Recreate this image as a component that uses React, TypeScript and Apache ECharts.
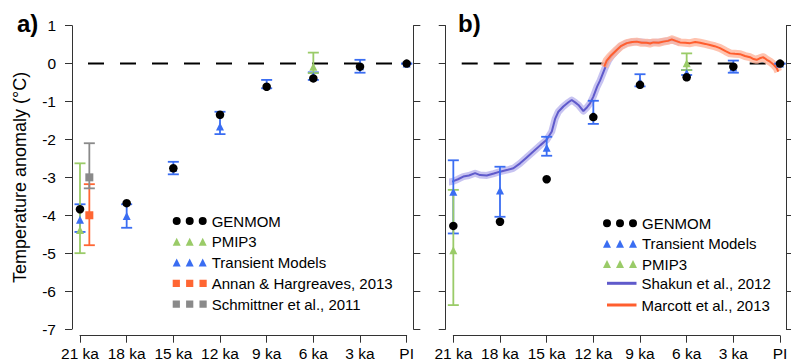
import React, { useEffect, useRef } from "react";
import * as echarts from "echarts";

const FONT = '"Liberation Sans", Arial, Helvetica, sans-serif';

// ---- x positions (ka before present; 0 = PI) ----
const siteKa = [21, 18, 15, 12, 9, 6, 3, 0];
const tickKa = [21, 18, 15, 12, 9, 6, 3, 0];

// ---- Panel a ----
const genmomA = [-3.84, -3.68, -2.76, -1.35, -0.61, -0.39, -0.08, 0];
const transA = [-4.12, -4.02, -2.75, -1.66, -0.58, -0.33, -0.07, 0];
const transALow = [-4.44, -4.33, -2.92, -1.86, -0.65, -0.43, -0.24, 0];
const transAHigh = [-3.71, -3.71, -2.59, -1.27, -0.43, -0.23, 0.1, 0];
const pmipKa = [21, 6];
const pmipA = [-4.39, -0.08];
const pmipALow = [-5.0, -0.25];
const pmipAHigh = [-2.63, 0.29];
const proxyKa = [20.4];
const annan = [-4.0];
const annanLow = [-4.79];
const annanHigh = [-3.18];
const schmittner = [-3.0];
const schmittnerLow = [-3.29];
const schmittnerHigh = [-2.1];

// ---- Panel b ----
const genmomB = [-4.28, -4.17, -3.05, -1.41, -0.56, -0.36, -0.08, 0];
const transB = [-3.38, -3.35, -2.22, -1.35, -0.47, -0.25, -0.1, 0];
const transBLow = [-4.48, -4.04, -2.43, -1.59, -0.6, -0.3, -0.24, 0];
const transBHigh = [-2.55, -2.72, -1.93, -0.98, -0.28, -0.17, 0.08, 0];
const pmipB = [-4.92, 0.01];
const pmipBLow = [-6.37, -0.17];
const pmipBHigh = [-3.33, 0.27];

const shakunKa = [21.47, 21.0, 20.7, 20.36, 20.0, 19.6, 19.28, 18.85, 18.4, 18.0, 17.5, 17.14, 16.71, 16.3, 15.86, 15.4, 15.0, 14.67, 14.45, 14.25, 13.93, 13.6, 13.39, 13.15, 12.96, 12.64, 12.4, 12.21, 12.0, 11.75, 11.57, 11.25, 11.0, 10.82, 10.5, 10.28, 9.86, 9.5, 9.21, 8.9, 8.57, 8.2, 7.71, 7.3, 6.94, 6.43];
const shakunT = [-3.14, -3.1, -3.05, -2.98, -2.95, -2.89, -2.94, -2.95, -2.9, -2.85, -2.8, -2.76, -2.63, -2.48, -2.32, -2.15, -2.01, -1.79, -1.45, -1.27, -1.13, -1.02, -0.96, -1.03, -1.09, -1.25, -1.15, -1.05, -0.87, -0.6, -0.45, -0.12, 0.1, 0.2, 0.35, 0.45, 0.54, 0.57, 0.58, 0.57, 0.55, 0.56, 0.57, 0.6, 0.62, 0.56];

const marcottKa = [11.3, 11.14, 10.9, 10.5, 10.2, 9.85, 9.5, 9.21, 8.9, 8.57, 8.35, 8.14, 7.8, 7.5, 7.2, 6.96, 6.7, 6.43, 6.1, 5.78, 5.45, 5.14, 4.8, 4.5, 4.2, 3.86, 3.5, 3.21, 2.9, 2.57, 2.25, 1.93, 1.7, 1.5, 1.3, 1.07, 0.85, 0.64, 0.4, 0.21, 0.11];
const marcottT = [-0.08, 0.08, 0.2, 0.36, 0.47, 0.54, 0.57, 0.58, 0.55, 0.55, 0.53, 0.56, 0.55, 0.58, 0.6, 0.64, 0.6, 0.56, 0.55, 0.54, 0.57, 0.55, 0.52, 0.49, 0.46, 0.41, 0.33, 0.27, 0.26, 0.25, 0.2, 0.17, 0.12, 0.1, 0.14, 0.17, 0.1, 0.05, -0.03, -0.12, -0.21];

const zeroA = [21.514, -0.429];
const zeroB = [21.49, -0.386];

const BLUE = "#3a6df2";
const GREEN = "#9acb68";
const ORANGE = "#ff6633";
const GRAY = "#8a8a8a";
const SHAKUN = "#5f5acb";
const SHAKUN_BAND = "#bdb9ee";
const MARCOTT = "#ff5e2e";
const MARCOTT_BAND = "#ffb49b";

const dots3 = "path://M0,4a4,4 0 1,0 8,0a4,4 0 1,0 -8,0ZM13,4a4,4 0 1,0 8,0a4,4 0 1,0 -8,0ZM26,4a4,4 0 1,0 8,0a4,4 0 1,0 -8,0Z";
const tri3 = "path://M0,8L4,0L8,8ZM13,8L17,0L21,8ZM26,8L30,0L34,8Z";
const sq3 = "path://M0.5,0.5h7v7h-7ZM13.5,0.5h7v7h-7ZM26.5,0.5h7v7h-7Z";

const pairs = (xs: number[], ys: number[]) => xs.map((x, i) => [x, ys[i]]);

const errorBar = (name: string, xs: number[], lo: number[], hi: number[], color: string, xi: number, yi: number) => ({
  type: "custom",
  name,
  xAxisIndex: xi,
  yAxisIndex: yi,
  silent: true,
  z: 3,
  clip: false,
  data: xs.map((x, i) => [x, lo[i], hi[i]]),
  encode: { x: 0, y: [1, 2] },
  renderItem: (params: any, api: any) => {
    const x = api.value(0);
    const a = api.coord([x, api.value(1)]);
    const b = api.coord([x, api.value(2)]);
    const cap = 5.5;
    const st = { stroke: color, lineWidth: 1.8, fill: null };
    return {
      type: "group",
      children: [
        { type: "line", shape: { x1: a[0], y1: a[1], x2: b[0], y2: b[1] }, style: st },
        { type: "line", shape: { x1: a[0] - cap, y1: a[1], x2: a[0] + cap, y2: a[1] }, style: st },
        { type: "line", shape: { x1: b[0] - cap, y1: b[1], x2: b[0] + cap, y2: b[1] }, style: st },
      ],
    };
  },
});

const scatter = (name: string, xs: number[], ys: number[], symbol: string, size: number, color: string, xi: number, yi: number, z: number) => ({
  type: "scatter",
  name,
  xAxisIndex: xi,
  yAxisIndex: yi,
  symbol,
  symbolSize: size,
  clip: false,
  z,
  itemStyle: { color, opacity: 1 },
  data: pairs(xs, ys),
});

const axisLineStyle = { color: "#333", width: 1 };

const makeX = (gridIndex: number) => ({
  gridIndex,
  type: "value",
  min: 0,
  max: 21,
  interval: 3,
  inverse: true,
  position: "bottom",
  offset: 6.7,
  axisLine: { show: true, onZero: false, lineStyle: axisLineStyle },
  axisTick: { show: true, length: 7, inside: false, lineStyle: axisLineStyle },
  axisLabel: {
    show: true,
    margin: 10,
    fontSize: 15.5,
    fontFamily: FONT,
    color: "#000",
    formatter: (v: number) => (tickKa.includes(v) ? (v === 0 ? "PI" : `${v} ka`) : ""),
  },
  splitLine: { show: false },
});

const makeY = (gridIndex: number, position: string, offset: number, labels: boolean, withName: boolean) => ({
  gridIndex,
  type: "value",
  min: -7,
  max: 1,
  interval: 1,
  position,
  offset,
  axisLine: { show: true, onZero: false, lineStyle: axisLineStyle },
  axisTick: { show: true, length: 7, inside: false, lineStyle: axisLineStyle },
  axisLabel: { show: labels, margin: 16, fontSize: 15.5, fontFamily: FONT, color: "#000" },
  splitLine: { show: false },
  name: withName ? "Temperature anomaly (°C)" : "",
  nameLocation: "middle",
  nameGap: 43,
  nameTextStyle: { fontSize: 18, fontFamily: FONT, color: "#000" },
});

export default function App() {
  const ref = useRef<HTMLDivElement>(null);
  useEffect(() => {
    if (!ref.current) return;
    const chart = echarts.init(ref.current, null, { renderer: "svg" });
    const legendText = { fontSize: 15, fontFamily: FONT, color: "#000", lineHeight: 16 };
    const option: any = {
      animation: false,
      backgroundColor: "#fff",
      textStyle: { fontFamily: FONT },
      grid: [
        { left: 80, top: 25.7, width: 326.67, height: 303.3, outerBoundsMode: "none", containLabel: false },
        { left: 453.33, top: 25.7, width: 326.67, height: 303.3, outerBoundsMode: "none", containLabel: false },
      ],
      xAxis: [makeX(0), makeX(1)],
      yAxis: [
        makeY(0, "left", 8, true, true),
        makeY(0, "right", 6.67, false, false),
        makeY(1, "left", 7.6, false, false),
        makeY(1, "right", 6, false, false),
      ],
      legend: [
        {
          left: 172.7, top: 213, orient: "vertical", padding: 0, itemGap: 4.8,
          itemWidth: 34, itemHeight: 8, selectedMode: false, textStyle: legendText,
          data: [
            { name: "GENMOM", icon: dots3 },
            { name: "PMIP3", icon: tri3 },
            { name: "Transient Models", icon: tri3 },
            { name: "Annan & Hargreaves, 2013", icon: sq3 },
            { name: "Schmittner et al., 2011", icon: sq3 },
          ],
        },
        {
          left: 603, top: 215.3, orient: "vertical", padding: 0, itemGap: 4.4,
          itemWidth: 34, itemHeight: 8, selectedMode: false, textStyle: legendText,
          data: [
            { name: "GENMOM", icon: dots3 },
            { name: "Transient Models", icon: tri3 },
            { name: "PMIP3", icon: tri3 },
          ],
        },
        {
          left: 607, top: 275.3, orient: "vertical", padding: 0, itemGap: 5.7,
          itemWidth: 29.5, itemHeight: 3, selectedMode: false, textStyle: legendText,
          data: [
            { name: "Shakun et al., 2012", icon: "rect" },
            { name: "Marcott et al., 2013", icon: "rect" },
          ],
        },
      ],
      graphic: [
        { type: "text", left: 17, top: 11, style: { text: "a)", font: `bold 24px ${FONT}`, fill: "#000" } },
        { type: "text", left: 458, top: 11, style: { text: "b)", font: `bold 24px ${FONT}`, fill: "#000" } },
      ],
      series: [
        // zero lines
        {
          type: "line", name: "zeroA", xAxisIndex: 0, yAxisIndex: 0, symbol: "none", clip: false, silent: true, z: 1,
          data: zeroA.map((x) => [x, 0]),
          lineStyle: { color: "#000", width: 2, type: [16, 16], dashOffset: 16 },
        },
        {
          type: "line", name: "zeroB", xAxisIndex: 1, yAxisIndex: 2, symbol: "none", clip: false, silent: true, z: 1,
          data: zeroB.map((x) => [x, 0]),
          lineStyle: { color: "#000", width: 2, type: [16, 16], dashOffset: 16 },
        },
        // Shakun band + line
        {
          type: "line", name: "Shakun band", xAxisIndex: 1, yAxisIndex: 2, symbol: "none", clip: false, silent: true, z: 2,
          data: pairs(shakunKa, shakunT),
          lineStyle: { color: SHAKUN_BAND, width: 7, opacity: 0.85, join: "round", cap: "butt" },
        },
        {
          type: "line", name: "Shakun et al., 2012", xAxisIndex: 1, yAxisIndex: 2, symbol: "none", clip: false, z: 2,
          data: pairs(shakunKa, shakunT),
          itemStyle: { color: SHAKUN },
          lineStyle: { color: SHAKUN, width: 2 },
        },
        // Marcott band + line
        {
          type: "line", name: "Marcott band", xAxisIndex: 1, yAxisIndex: 2, symbol: "none", clip: false, silent: true, z: 2,
          data: pairs(marcottKa, marcottT),
          lineStyle: { color: MARCOTT_BAND, width: 8, opacity: 0.8, join: "round" },
        },
        {
          type: "line", name: "Marcott et al., 2013", xAxisIndex: 1, yAxisIndex: 2, symbol: "none", clip: false, z: 2,
          data: pairs(marcottKa, marcottT),
          itemStyle: { color: MARCOTT },
          lineStyle: { color: MARCOTT, width: 2 },
        },
        // Panel a error bars
        errorBar("transA err", siteKa, transALow, transAHigh, BLUE, 0, 0),
        errorBar("pmipA err", pmipKa, pmipALow, pmipAHigh, GREEN, 0, 0),
        errorBar("annan err", proxyKa, annanLow, annanHigh, ORANGE, 0, 0),
        errorBar("schm err", proxyKa, schmittnerLow, schmittnerHigh, GRAY, 0, 0),
        // Panel b error bars
        errorBar("transB err", siteKa, transBLow, transBHigh, BLUE, 1, 2),
        errorBar("pmipB err", pmipKa, pmipBLow, pmipBHigh, GREEN, 1, 2),
        // markers panel a
        scatter("Transient Models", siteKa, transA, "triangle", 8, BLUE, 0, 0, 4),
        scatter("PMIP3", pmipKa, pmipA, "triangle", 8, GREEN, 0, 0, 4),
        scatter("Annan & Hargreaves, 2013", proxyKa, annan, "rect", 8, ORANGE, 0, 0, 4),
        scatter("Schmittner et al., 2011", proxyKa, schmittner, "rect", 8, GRAY, 0, 0, 4),
        scatter("GENMOM", siteKa, genmomA, "circle", 8.5, "#000", 0, 0, 5),
        // markers panel b
        scatter("Transient Models", siteKa, transB, "triangle", 8, BLUE, 1, 2, 4),
        scatter("PMIP3", pmipKa, pmipB, "triangle", 8, GREEN, 1, 2, 4),
        scatter("GENMOM", siteKa, genmomB, "circle", 8.5, "#000", 1, 2, 5),
      ],
    };
    chart.setOption(option);
    return () => chart.dispose();
  }, []);
  return (
    <div
      ref={ref}
      style={{ position: "fixed", left: 0, top: 0, width: 791, height: 362, background: "#fff" }}
    />
  );
}
